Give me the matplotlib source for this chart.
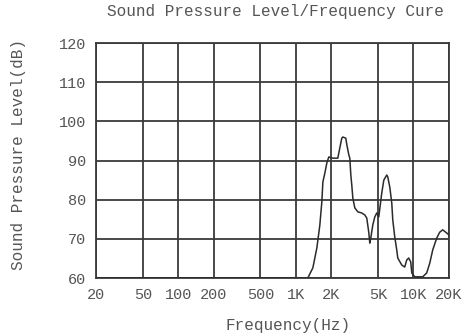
import matplotlib
matplotlib.use("Agg")
import matplotlib.pyplot as plt

# ---- data ----
freq = [20, 200, 1265, 1396, 1510, 1600, 1664, 1698, 1766, 1836, 1908, 2064, 2275,
        2366, 2460, 2510, 2660, 2716, 2824, 2878, 2936, 2992, 3054, 3174, 3366,
        3638, 3858, 4012, 4170, 4256, 4338, 4512, 4692, 4878, 5074, 5380, 5600,
        5932, 6052, 6296, 6546, 6674, 6936, 7212, 7360, 7962, 8434, 8770, 9120,
        9488, 9680, 10260, 10880, 12000, 12970, 13770, 14600, 15780, 16740,
        17740, 19180, 20000]
spl = [60, 60, 60, 62.6, 67.7, 73.5, 79.4, 84.5, 86.8, 89.4, 90.9, 90.6, 90.6,
       93.2, 95.7, 96.0, 95.7, 94.0, 91.4, 90.6, 86.3, 83.7, 80.4, 77.9, 76.9,
       76.6, 76.1, 75.3, 71.7, 68.9, 70.2, 73.5, 75.6, 76.6, 75.6, 81.7, 85.0,
       86.3, 85.8, 83.2, 79.1, 74.8, 70.5, 67.2, 65.1, 63.3, 62.8, 64.6, 65.1,
       64.1, 61.3, 60.3, 60.3, 60.3, 61.3, 63.8, 67.2, 70.2, 71.7, 72.3, 71.5,
       71.0]

xticks = [20, 50, 100, 200, 500, 1000, 2000, 5000, 10000, 20000]
xticklabels = ["20", "50", "100", "200", "500", "1K", "2K", "5K", "10K", "20K"]
yticks = [60, 70, 80, 90, 100, 110, 120]

titleText = "Sound Pressure Level/Frequency Cure"
xLabel = "Frequency(Hz)"
yLabel = "Sound Pressure Level(dB)"

textColor = "#555555"
gridColor = "#3a3a3a"
fontName = "Liberation Mono"

################## FIGURE ##################
fig = plt.figure(figsize=(4.69, 3.36), dpi=100)
ax = fig.add_axes([0.2047, 0.1726, 0.7523, 0.6994])

ax.plot(freq, spl, color="#2b2b2b", linewidth=1.1, zorder=5)

ax.set_xscale("log")
ax.set_xlim(20, 20000)
ax.set_ylim(60, 120)
ax.set_xticks(xticks)
ax.set_xticklabels(xticklabels)
ax.minorticks_off()
ax.set_yticks(yticks)

ax.grid(True, which="major", color=gridColor, linewidth=1.3)
for s in ax.spines.values():
    s.set_color(gridColor)
    s.set_linewidth(1.3)

ax.tick_params(axis="both", length=0, labelcolor=textColor, labelsize=11)
ax.tick_params(axis="x", pad=7)
ax.tick_params(axis="y", pad=7)
for lab in ax.get_xticklabels() + ax.get_yticklabels():
    lab.set_fontfamily(fontName)

fig.text(0.587, 0.965, titleText, ha="center", va="center",
         fontsize=11.5, color=textColor, family=fontName)
fig.text(0.615, 0.032, xLabel, ha="center", va="center",
         fontsize=11.5, color=textColor, family=fontName)
fig.text(0.04, 0.54, yLabel, ha="center", va="center", rotation=90,
         fontsize=11.5, color=textColor, family=fontName)

fig.savefig("out.png", dpi=100)
